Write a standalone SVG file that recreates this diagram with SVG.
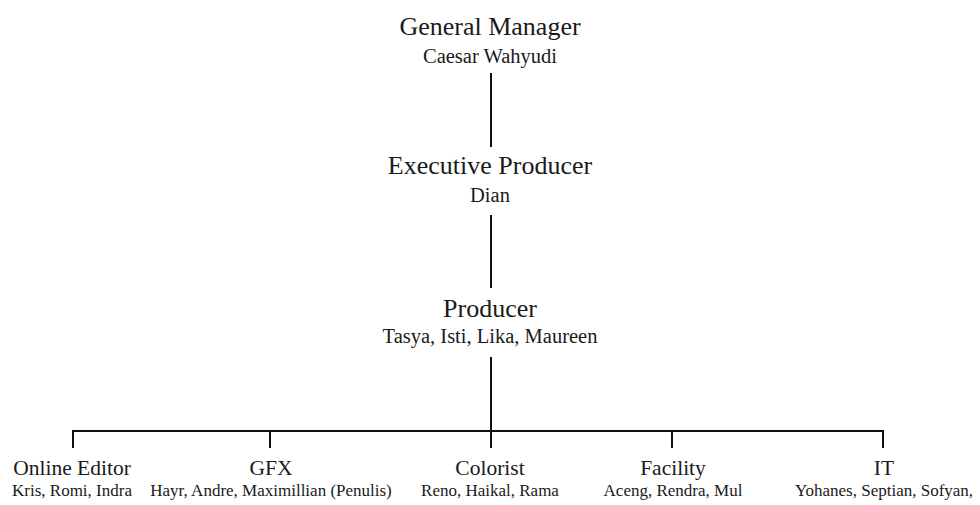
<svg xmlns="http://www.w3.org/2000/svg" width="980" height="505" viewBox="0 0 980 505">
<style>
text{font-family:"Liberation Serif","Times New Roman",serif;fill:#1a1a1a;text-anchor:middle}
.t{font-size:26px}
.n{font-size:20.5px}
.bt{font-size:21.5px}
.bn{font-size:17px}
.c{stroke:#111;stroke-width:2;fill:none}
</style>
<rect width="980" height="505" fill="#fff"/>
<g id="connectors">
<line class="c" x1="491" y1="73" x2="491" y2="147"/>
<line class="c" x1="491" y1="215" x2="491" y2="288"/>
<line class="c" x1="491" y1="357" x2="491" y2="448"/>
<polyline class="c" points="73,448 73,431 883,431 883,448"/>
<line class="c" x1="270" y1="431" x2="270" y2="448"/>
<line class="c" x1="672" y1="431" x2="672" y2="448"/>
</g>
<g id="general-manager">
<text class="t" x="490" y="35">General Manager</text>
<text class="n" x="490" y="63">Caesar Wahyudi</text>
</g>
<g id="executive-producer">
<text class="t" x="490" y="174">Executive Producer</text>
<text class="n" x="490" y="202">Dian</text>
</g>
<g id="producer">
<text class="t" x="490" y="317">Producer</text>
<text class="n" x="490" y="343">Tasya, Isti, Lika, Maureen</text>
</g>
<g id="online-editor">
<text class="bt" x="72" y="475">Online Editor</text>
<text class="bn" x="72" y="496">Kris, Romi, Indra</text>
</g>
<g id="gfx">
<text class="bt" x="271" y="475">GFX</text>
<text class="bn" x="271" y="496">Hayr, Andre, Maximillian (Penulis)</text>
</g>
<g id="colorist">
<text class="bt" x="490" y="475">Colorist</text>
<text class="bn" x="490" y="496">Reno, Haikal, Rama</text>
</g>
<g id="facility">
<text class="bt" x="673" y="475">Facility</text>
<text class="bn" x="673" y="496">Aceng, Rendra, Mul</text>
</g>
<g id="it">
<text class="bt" x="884" y="475">IT</text>
<text class="bn" x="884" y="496">Yohanes, Septian, Sofyan,</text>
</g>
</svg>
